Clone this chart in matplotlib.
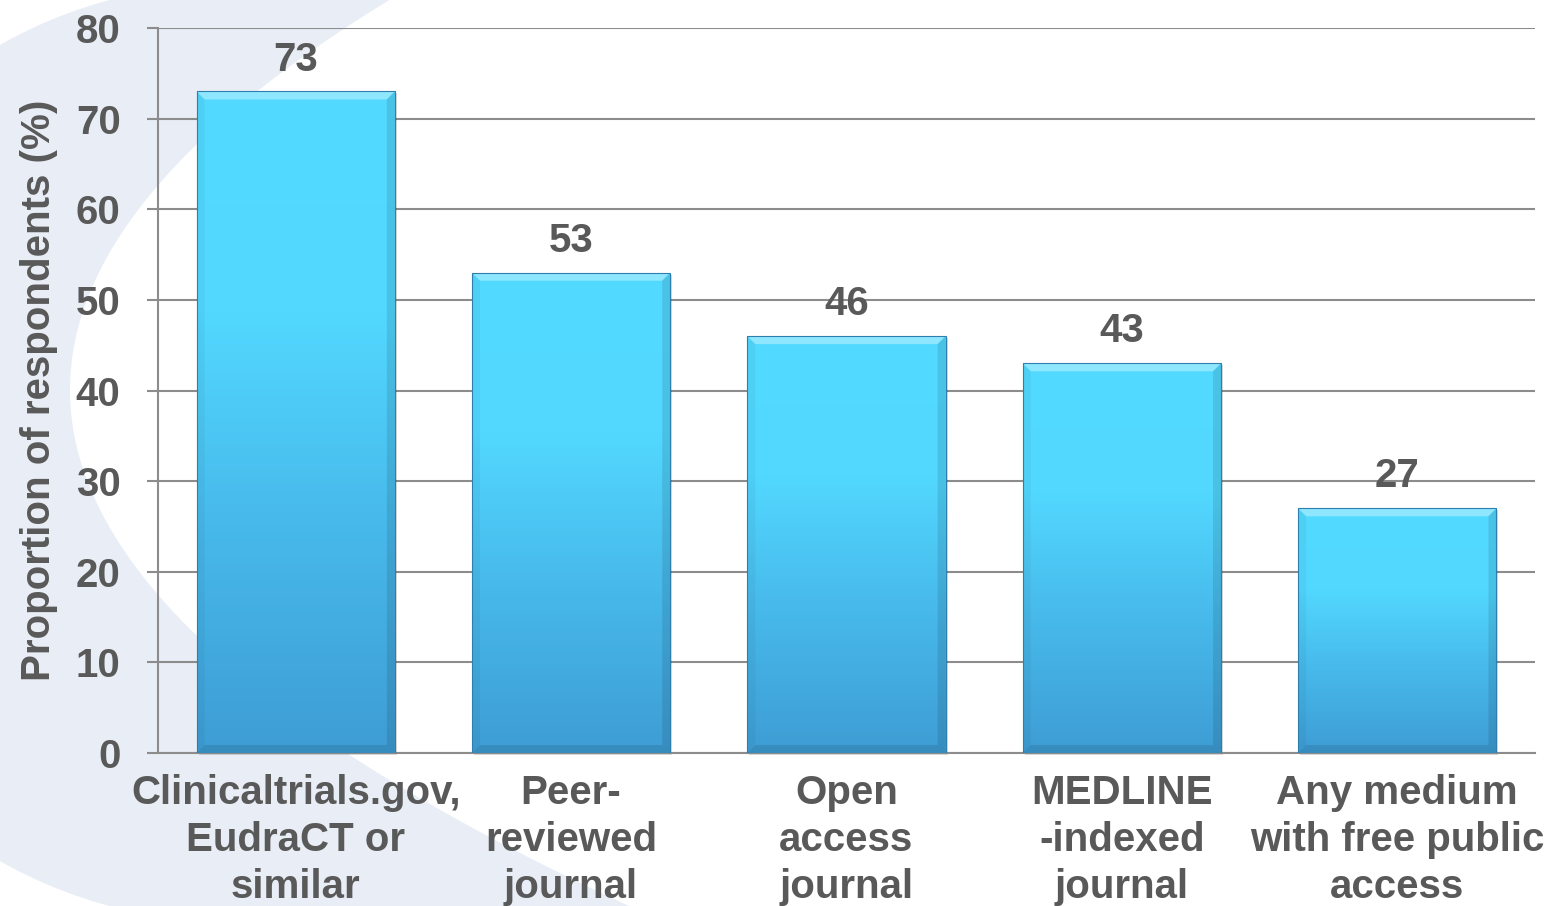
import numpy as np
import matplotlib.pyplot as plt
from matplotlib.colors import LinearSegmentedColormap
from matplotlib.patches import Polygon, Rectangle

categories = ["Clinicaltrials.gov,\nEudraCT or\nsimilar",
              "Peer-\nreviewed\njournal",
              "Open\naccess\njournal",
              "MEDLINE\n-indexed\njournal",
              "Any medium\nwith free public\naccess"]
values = [73, 53, 46, 43, 27]
yticks = [0, 10, 20, 30, 40, 50, 60, 70, 80]

W, H = 1557, 906
plt.rcParams['font.family'] = ['Liberation Sans', 'DejaVu Sans']
plt.rcParams['font.weight'] = 'bold'
text_col = '#595959'
grid_col = '#8c8c8c'
fs = 29

fig = plt.figure(figsize=(W / 100, H / 100), dpi=100)

# pale swoosh behind the chart, drawn in pixel coordinates
bg = fig.add_axes([0, 0, 1, 1], zorder=0)
bg.set_xlim(0, W)
bg.set_ylim(H, 0)
bg.axis('off')
yy = np.linspace(-5, H + 5, 400)
outer = 231 - np.sqrt(469 ** 2 - (yy - 453) ** 2)
inner = 70 + 0.0021 * (yy - 390) ** 2
band = Polygon(np.column_stack([np.r_[outer, inner[::-1]], np.r_[yy, yy[::-1]]]),
               closed=True, facecolor='#e9eef6', edgecolor='none')
bg.add_patch(band)

# main axes
l, r, t, b = 158, 1535, 28, 753
ax = fig.add_axes([l / W, 1 - b / H, (r - l) / W, (b - t) / H], zorder=1)
ax.patch.set_alpha(0)

x = np.arange(len(values))
w = 0.72
ax.set_xlim(-0.5, len(values) - 0.5)
ax.set_ylim(0, 80)

# pixel -> data sizes for bevel/shadow
px_x = (len(values)) / (r - l)
px_y = 80 / (b - t)
bx, by = 8 * px_x, 8 * px_y

cmap = LinearSegmentedColormap.from_list('bar', ['#3e9dd4', '#47b8ea', '#52d8ff', '#53daff'])
grad = np.linspace(0, 1, 256).reshape(-1, 1)

for xi, v in zip(x, values):
    x0, x1 = xi - w / 2, xi + w / 2
    # soft shadow
    ax.add_patch(Rectangle((x0 + 2 * px_x, -2 * px_y), w, v, facecolor='black',
                           alpha=0.15, edgecolor='none', zorder=2, clip_on=False))
    clip = Rectangle((x0, 0), w, v, transform=ax.transData, facecolor='none', edgecolor='none')
    ax.add_patch(clip)
    im = ax.imshow(grad, cmap=cmap, origin='lower', extent=(x0, x1, 0, v),
                   aspect='auto', interpolation='bilinear', zorder=3)
    im.set_clip_path(clip)
    # bevel edges
    ax.add_patch(Polygon([(x0, v), (x1, v), (x1 - bx, v - by), (x0 + bx, v - by)],
                         facecolor='white', alpha=0.35, edgecolor='none', zorder=4))
    ax.add_patch(Polygon([(x0, 0), (x1, 0), (x1 - bx, by), (x0 + bx, by)],
                         facecolor='black', alpha=0.1, edgecolor='none', zorder=4))
    ax.add_patch(Polygon([(x0, 0), (x0, v), (x0 + bx, v - by), (x0 + bx, by)],
                         facecolor='black', alpha=0.04, edgecolor='none', zorder=4))
    ax.add_patch(Polygon([(x1, 0), (x1, v), (x1 - bx, v - by), (x1 - bx, by)],
                         facecolor='black', alpha=0.1, edgecolor='none', zorder=4))
    ax.add_patch(Rectangle((x0, 0), w, v, facecolor='none', edgecolor='#2f7fae',
                           linewidth=0.8, zorder=5))
    ax.annotate(str(v), (xi, v), xytext=(0, 15), textcoords='offset points',
                ha='center', va='baseline', fontsize=fs, color=text_col, fontweight='bold')

ax.set_yticks(yticks)
ax.yaxis.grid(True, color=grid_col, linewidth=1.5)
ax.set_axisbelow(True)
for s in ['top', 'right']:
    ax.spines[s].set_visible(False)
for s in ['left', 'bottom']:
    ax.spines[s].set_color(grid_col)
    ax.spines[s].set_linewidth(1.5)
ax.tick_params(axis='y', length=8, width=1.5, color=grid_col, pad=19,
               labelsize=fs, labelcolor=text_col)
ax.set_xticks(x)
ax.set_xticklabels(categories, fontsize=fs, color=text_col, fontweight='bold',
                   linespacing=1.3)
ax.tick_params(axis='x', length=0, pad=15)
ax.set_ylabel('Proportion of respondents (%)', fontsize=29, color=text_col,
              fontweight='bold', labelpad=13)

fig.savefig('out.png', dpi=100)
